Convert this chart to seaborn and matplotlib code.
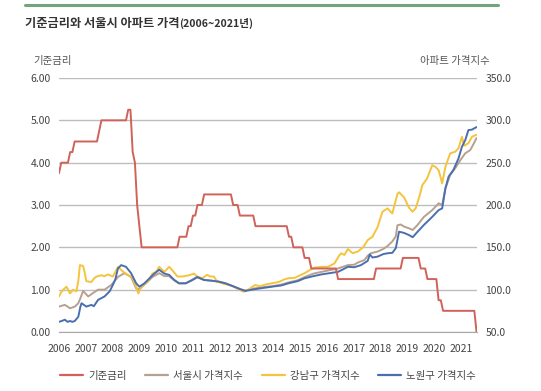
import numpy as np
import pandas as pd
import matplotlib
matplotlib.use("Agg")
import matplotlib.pyplot as plt
from matplotlib.lines import Line2D
import seaborn as sns

sns.set_style("white")
plt.rcParams['font.family'] = ['Noto Sans CJK KR', 'DejaVu Sans']

# ── 기준금리 (월별, 2006.01 ~ 2021.08) ──
rate_by_year = {
    2006: [3.75, 4.00, 4.00, 4.00, 4.00, 4.25, 4.25, 4.50, 4.50, 4.50, 4.50, 4.50],
    2007: [4.50, 4.50, 4.50, 4.50, 4.50, 4.50, 4.75, 5.00, 5.00, 5.00, 5.00, 5.00],
    2008: [5.00, 5.00, 5.00, 5.00, 5.00, 5.00, 5.00, 5.25, 5.25, 4.25, 4.00, 3.00],
    2009: [2.50, 2.00, 2.00, 2.00, 2.00, 2.00, 2.00, 2.00, 2.00, 2.00, 2.00, 2.00],
    2010: [2.00, 2.00, 2.00, 2.00, 2.00, 2.00, 2.25, 2.25, 2.25, 2.25, 2.50, 2.50],
    2011: [2.75, 2.75, 3.00, 3.00, 3.00, 3.25, 3.25, 3.25, 3.25, 3.25, 3.25, 3.25],
    2012: [3.25, 3.25, 3.25, 3.25, 3.25, 3.25, 3.00, 3.00, 3.00, 2.75, 2.75, 2.75],
    2013: [2.75, 2.75, 2.75, 2.75, 2.50, 2.50, 2.50, 2.50, 2.50, 2.50, 2.50, 2.50],
    2014: [2.50, 2.50, 2.50, 2.50, 2.50, 2.50, 2.50, 2.25, 2.25, 2.00, 2.00, 2.00],
    2015: [2.00, 2.00, 1.75, 1.75, 1.75, 1.50, 1.50, 1.50, 1.50, 1.50, 1.50, 1.50],
    2016: [1.50, 1.50, 1.50, 1.50, 1.50, 1.25, 1.25, 1.25, 1.25, 1.25, 1.25, 1.25],
    2017: [1.25, 1.25, 1.25, 1.25, 1.25, 1.25, 1.25, 1.25, 1.25, 1.25, 1.50, 1.50],
    2018: [1.50, 1.50, 1.50, 1.50, 1.50, 1.50, 1.50, 1.50, 1.50, 1.50, 1.75, 1.75],
    2019: [1.75, 1.75, 1.75, 1.75, 1.75, 1.75, 1.50, 1.50, 1.50, 1.25, 1.25, 1.25],
    2020: [1.25, 1.25, 0.75, 0.75, 0.50, 0.50, 0.50, 0.50, 0.50, 0.50, 0.50, 0.50],
    2021: [0.50, 0.50, 0.50, 0.50, 0.50, 0.50, 0.50, 0.00],
}
rate = [v for yr in sorted(rate_by_year) for v in rate_by_year[yr]]
rate_t = 2006 + np.arange(len(rate)) / 12

# ── 아파트 가격지수 ──
seoul_t = [2006.00, 2006.10, 2006.22, 2006.32, 2006.41, 2006.59, 2006.72, 2006.80, 2006.90, 2007.00,
           2007.09, 2007.27, 2007.46, 2007.70, 2007.95, 2008.20, 2008.44, 2008.69, 2008.88, 2009.00,
           2009.31, 2009.49, 2009.74, 2009.93, 2010.11, 2010.30, 2010.48, 2010.73, 2010.97, 2011.16,
           2011.41, 2011.72, 2011.96, 2012.21, 2012.46, 2012.77, 2012.95, 2013.20, 2013.50, 2013.94,
           2014.30, 2014.56, 2014.90, 2015.17, 2015.50, 2015.79, 2016.10, 2016.41, 2016.78, 2017.02,
           2017.15, 2017.40, 2017.52, 2017.64, 2017.89, 2018.10, 2018.26, 2018.44, 2018.57, 2018.63,
           2018.75, 2018.88, 2019.06, 2019.20, 2019.37, 2019.62, 2019.93, 2020.17, 2020.30, 2020.42,
           2020.60, 2020.79, 2020.98, 2021.16, 2021.35, 2021.47, 2021.58]
seoul = [80, 81, 82, 80, 78, 80, 84, 90, 98.5, 95,
         92, 96, 100, 100, 105.5, 115, 119.5, 115, 101.5, 100.5,
         109.5, 115, 119.5, 116, 116, 111, 107.5, 107.5, 111, 114.5,
         111.5, 110.5, 109.5, 107.5, 104.5, 100.5, 99, 101, 102.5, 104,
         106, 108.5, 111, 115, 119, 121, 123, 125, 129, 129.5,
         132, 135, 140, 143, 145, 148, 151.5, 157, 163, 176,
         177, 174.5, 172.5, 170.5, 176, 186, 194, 202, 200, 219.5,
         235.5, 243.5, 253, 261, 265, 272, 279]

gangnam_t = [2006.00, 2006.08, 2006.16, 2006.28, 2006.41, 2006.53, 2006.65, 2006.72, 2006.78, 2006.90,
             2006.96, 2007.02, 2007.21, 2007.30, 2007.40, 2007.58, 2007.70, 2007.83, 2008.01, 2008.12,
             2008.20, 2008.38, 2008.57, 2008.75, 2008.88, 2008.96, 2009.06, 2009.31, 2009.49, 2009.62,
             2009.74, 2009.93, 2010.11, 2010.23, 2010.42, 2010.60, 2010.85, 2011.04, 2011.16, 2011.34,
             2011.53, 2011.65, 2011.78, 2011.90, 2012.09, 2012.33, 2012.52, 2012.70, 2012.89, 2013.07,
             2013.20, 2013.32, 2013.50, 2013.70, 2013.94, 2014.20, 2014.40, 2014.56, 2014.80, 2015.00,
             2015.17, 2015.35, 2015.54, 2015.80, 2016.04, 2016.28, 2016.45, 2016.53, 2016.65, 2016.78,
             2016.96, 2017.15, 2017.35, 2017.52, 2017.70, 2017.89, 2018.07, 2018.26, 2018.44, 2018.63,
             2018.69, 2018.88, 2019.06, 2019.19, 2019.31, 2019.45, 2019.56, 2019.74, 2019.93, 2020.05,
             2020.17, 2020.30, 2020.42, 2020.60, 2020.79, 2020.91, 2021.04, 2021.12, 2021.28, 2021.41,
             2021.58]
gangnam = [92, 97, 100, 103.5, 95.5, 100, 98, 110, 129, 128,
           120, 110, 109, 113, 115.5, 117, 116, 118, 115.5, 122,
           127, 121.5, 117.5, 113.5, 103.5, 95.5, 103, 109.5, 119, 121,
           127, 121, 127, 123, 115.5, 115.5, 117, 119, 115.5, 113.5,
           117.5, 115.5, 115.5, 109.5, 107.5, 105.5, 103.5, 100.5, 97.5, 100,
           103, 105.5, 104, 106, 107.5, 109, 112, 113.5, 114, 117,
           119.5, 123, 126, 127, 127, 131, 140, 143, 141, 148,
           143, 145, 150, 158.5, 162.5, 174, 192, 196, 190, 213,
           215, 209, 197, 192, 196, 210, 223.5, 231.5, 247, 245,
           241, 225.5, 245, 261, 263, 267, 280.5, 270, 273, 280.5,
           283]

nowon_t = [2006.00, 2006.10, 2006.22, 2006.32, 2006.41, 2006.50, 2006.59, 2006.72, 2006.80, 2006.84,
           2007.02, 2007.21, 2007.30, 2007.46, 2007.70, 2007.89, 2008.01, 2008.10, 2008.20, 2008.32,
           2008.50, 2008.69, 2008.88, 2009.00, 2009.19, 2009.49, 2009.56, 2009.74, 2009.93, 2010.11,
           2010.30, 2010.48, 2010.73, 2010.97, 2011.16, 2011.41, 2011.72, 2011.96, 2012.21, 2012.46,
           2012.77, 2012.95, 2013.20, 2013.50, 2013.94, 2014.30, 2014.56, 2014.90, 2015.17, 2015.50,
           2015.79, 2016.10, 2016.41, 2016.60, 2016.78, 2017.02, 2017.27, 2017.52, 2017.60, 2017.70,
           2017.89, 2018.10, 2018.26, 2018.44, 2018.57, 2018.69, 2018.88, 2019.06, 2019.20, 2019.37,
           2019.62, 2019.93, 2020.17, 2020.30, 2020.42, 2020.54, 2020.72, 2020.91, 2021.04, 2021.16,
           2021.28, 2021.41, 2021.58]
nowon = [62, 63, 64.5, 62, 63, 62, 63, 68, 80, 84,
         80, 82, 80.5, 88, 92, 98, 105.5, 112, 125, 129,
         127, 119.5, 107.5, 103.5, 107.5, 117, 119, 123.5, 119, 117.5,
         111.5, 107.5, 107.5, 111.5, 115, 111.5, 110.5, 109.5, 107.5, 104.5,
         100.5, 98.5, 100, 101.5, 103.5, 105, 107.5, 110, 113.5, 116,
         118, 119.5, 121, 124, 127, 126.5, 129, 134, 141.5, 138,
         139, 142, 143, 143.5, 149, 168.5, 167, 164.5, 162, 168,
         176.5, 186, 194, 196, 219.5, 233.5, 241.5, 255, 269, 276.5,
         288.5, 289, 292]

rate_ticks = [0, 1, 2, 3, 4, 5, 6]
index_ticks = [50, 100, 150, 200, 250, 300, 350]
years = list(range(2006, 2022))

series_names = ['서울시 가격지수', '강남구 가격지수', '노원구 가격지수']
colors = {'기준금리': '#d0625a', '서울시 가격지수': '#b8a090',
          '강남구 가격지수': '#f3c43c', '노원구 가격지수': '#4b6fae'}

df_idx = pd.concat([
    pd.DataFrame({'t': seoul_t, 'v': seoul, 's': series_names[0]}),
    pd.DataFrame({'t': gangnam_t, 'v': gangnam, 's': series_names[1]}),
    pd.DataFrame({'t': nowon_t, 'v': nowon, 's': series_names[2]}),
])
df_rate = pd.DataFrame({'t': rate_t, 'v': rate})

# ── 그림 ──
fig = plt.figure(figsize=(5.41, 3.91), dpi=100)
ax = fig.add_axes([59 / 541, 59 / 391, 418 / 541, 254 / 391])
ax2 = ax.twinx()
ax.set_zorder(ax2.get_zorder() + 1)   # 기준금리 선을 맨 위에
ax.patch.set_visible(False)

for name in series_names:
    sns.lineplot(data=df_idx[df_idx['s'] == name], x='t', y='v', ax=ax2,
                 color=colors[name], lw=1.4, estimator=None, sort=False, legend=False)
sns.lineplot(data=df_rate, x='t', y='v', ax=ax, color=colors['기준금리'],
             lw=1.4, estimator=None, legend=False)

ax.set_xlim(2006, 2021.6)
ax.set_ylim(0, 6)
ax2.set_ylim(50, 350)
ax.set_yticks(rate_ticks)
ax.set_yticklabels([f'{v:.2f}' for v in rate_ticks])
ax2.set_yticks(index_ticks)
ax2.set_yticklabels([f'{v:.1f}' for v in index_ticks])
ax.set_xticks(years)
ax.set_xticklabels([str(y) for y in years])
ax.set_xlabel(''); ax.set_ylabel(''); ax2.set_ylabel('')

ax2.grid(axis='y', color='#bdbdbd', lw=1)
ax2.set_axisbelow(True)
for a in (ax, ax2):
    for s in ['top', 'left', 'right', 'bottom']:
        a.spines[s].set_visible(False)
ax.spines['bottom'].set_visible(True)
ax.spines['bottom'].set_color('#a8a8a8')
ax.tick_params(axis='x', length=4, color='#a8a8a8', labelsize=7.5, labelcolor='#444444', pad=5)
ax.tick_params(axis='y', length=0, labelsize=7.5, labelcolor='#444444', pad=6)
ax2.tick_params(axis='y', length=0, labelsize=7.5, labelcolor='#444444', pad=6)

# ── 제목, 축 제목 ──
fig.add_artist(Line2D([25 / 541, 498 / 541], [1 - 5 / 391, 1 - 5 / 391], color='#72a67a', lw=2.2))
t1 = fig.text(25 / 541, 1 - 23 / 391, '기준금리와 서울시 아파트 가격',
              fontsize=8.8, fontweight='bold', color='#333333', va='center')
ax.annotate('(2006~2021년)', xy=(1.0, 0.5), xycoords=t1, va='center', ha='left',
            fontsize=7.6, fontweight='bold', color='#333333', annotation_clip=False)
fig.text(33 / 541, 1 - 61 / 391, '기준금리', fontsize=7.5, color='#555555', va='center')
fig.text(490 / 541, 1 - 61 / 391, '아파트 가격지수', fontsize=7.5, color='#555555',
         va='center', ha='right')

# ── 범례 ──
labels = ['기준금리'] + series_names
handles = [Line2D([], [], color=colors[n], lw=1.6) for n in labels]
fig.legend(handles, labels, loc='center', bbox_to_anchor=(268 / 541, 1 - 376 / 391),
           ncol=4, frameon=False, fontsize=7.5, handlelength=2.2, columnspacing=1.8,
           handletextpad=0.5, labelcolor='#444444')

fig.savefig('out.png', dpi=100, facecolor='white')
